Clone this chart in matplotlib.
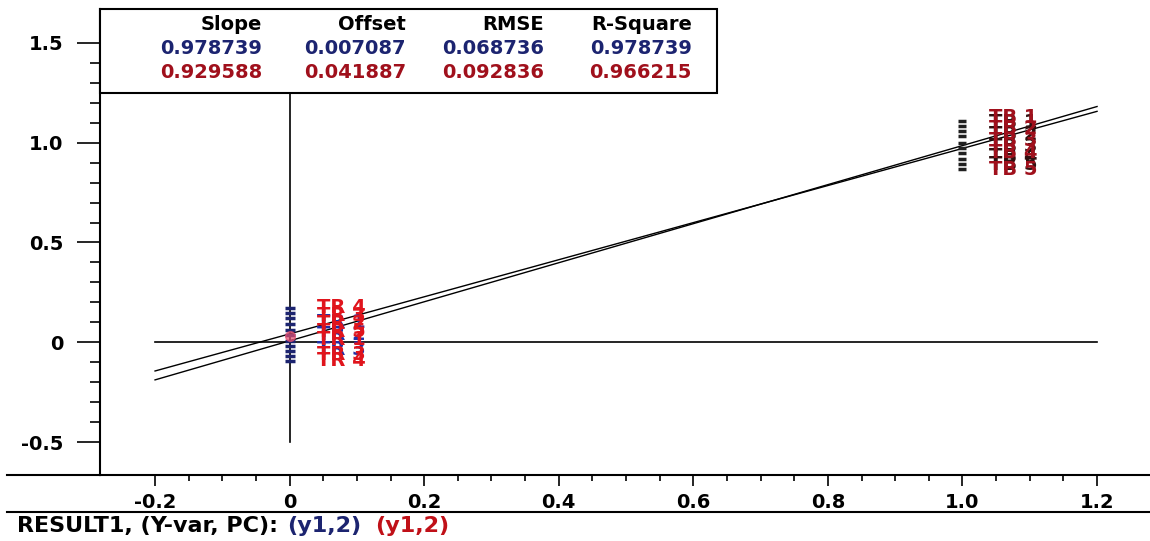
import numpy as np
import matplotlib
matplotlib.use("Agg")
import matplotlib.pyplot as plt
import matplotlib.ticker as tck
from matplotlib.lines import Line2D
from matplotlib.patches import Rectangle

# fit statistics shown in the box (blue row, red row)
stat_heads = ["Slope", "Offset", "RMSE", "R-Square"]
stats_blue = ["0.978739", "0.007087", "0.068736", "0.978739"]
stats_red = ["0.929588", "0.041887", "0.092836", "0.966215"]
slopes = [0.978739, 0.929588]
offsets = [0.007087, 0.041887]
fit_x = [-0.2, 1.2]

# samples at reference 0 and 1
pts0_y = [0.17, 0.145, 0.12, 0.09, 0.06, 0.035, 0.005, -0.02, -0.045, -0.07, -0.095]
pts1_y = [1.11, 1.085, 1.06, 1.035, 1.0, 0.975, 0.95, 0.92, 0.895, 0.87]
red0_y = [0.03]

# sample name labels
tr_blue_names = ["TR 1", "TR 2", "TR 3"]
tr_blue_y = [0.10, 0.04, -0.035]
tr_red_names = ["TR 4", "TR 3", "TR 2", "TR 5", "TR 1", "TR 3", "TR 4"]
tr_red_y = [0.175, 0.135, 0.095, 0.055, 0.015, -0.06, -0.09]
tb_dark_names = ["TB 1", "TB 2", "TB 3", "TB 4", "TB 5"]
tb_dark_y = [1.10, 1.04, 0.98, 0.93, 0.89]
tb_red_names = ["TB 1", "TB 2", "TB 3", "TB 4", "TB 5"]
tb_red_y = [1.125, 1.07, 1.01, 0.95, 0.865]

xticks = [-0.2, 0, 0.2, 0.4, 0.6, 0.8, 1.0, 1.2]
xticklabels = ["-0.2", "0", "0.2", "0.4", "0.6", "0.8", "1.0", "1.2"]
yticks = [-0.5, 0, 0.5, 1.0, 1.5]
yticklabels = ["-0.5", "0", "0.5", "1.0", "1.5"]

BLUE = "#1c2470"
RED = "#a0101c"
BRED = "#e0141c"
FS = 14

plt.rcParams['font.family'] = ['DejaVu Sans']
plt.rcParams['font.weight'] = 'bold'

W, H = 1150, 541
fig = plt.figure(figsize=(W / 100, H / 100), dpi=100)
ax = fig.add_axes([100 / W, (H - 475) / H, 1050 / W, 466 / H])
ax.set_xlim(-0.2818, 1.2787)
ax.set_ylim(-0.6654, 1.6704)

for s in ["top", "right"]:
    ax.spines[s].set_visible(False)
for s in ["left", "bottom"]:
    ax.spines[s].set_linewidth(1.5)

ax.set_xticks(xticks)
ax.set_xticklabels(xticklabels, fontsize=FS, fontweight='bold')
ax.set_yticks(yticks)
ax.set_yticklabels(yticklabels, fontsize=FS, fontweight='bold')
ax.xaxis.set_minor_locator(tck.FixedLocator(np.arange(-0.2, 1.21, 0.05)))
ax.yaxis.set_minor_locator(tck.FixedLocator(np.arange(-0.5, 1.51, 0.1)))
ax.tick_params(axis='x', which='major', direction='out', length=8, width=1.2, pad=5)
ax.tick_params(axis='x', which='minor', direction='out', length=4, width=1.2)
ax.tick_params(axis='y', which='major', direction='out', length=16.5, width=1.2, pad=10)
ax.tick_params(axis='y', which='minor', direction='out', length=7, width=1.2)

# reference lines
ax.plot([fit_x[0], fit_x[1]], [0, 0], color='black', lw=1.2, zorder=2)
ax.plot([0, 0], [-0.5, 1.6704], color='black', lw=1.2, zorder=2)

# regression lines
for sl, off in zip(slopes, offsets):
    ax.plot(fit_x, [sl * fit_x[0] + off, sl * fit_x[1] + off], color='black', lw=1.0, zorder=3)

# points
ax.plot([0] * len(pts0_y), pts0_y, ls='none', marker='_', ms=7, mew=2.5, color=BLUE, zorder=4)
ax.plot([0] * len(red0_y), red0_y, ls='none', marker='o', ms=7, color='#e85070', alpha=0.7, zorder=4)
ax.plot([1.0] * len(pts1_y), pts1_y, ls='none', marker='_', ms=6, mew=2.5, color='#202020', zorder=4)

# sample name labels
for name, yv in zip(tr_blue_names, tr_blue_y):
    ax.text(0.04, yv, name, color='#2030a8', fontsize=FS, fontweight='bold', va='center', ha='left', zorder=5)
for name, yv in zip(tr_red_names, tr_red_y):
    ax.text(0.04, yv, name, color=BRED, fontsize=FS, fontweight='bold', va='center', ha='left', zorder=6)
for name, yv in zip(tb_dark_names, tb_dark_y):
    ax.text(1.04, yv, name, color='#301010', fontsize=FS, fontweight='bold', va='center', ha='left', zorder=5)
for name, yv in zip(tb_red_names, tb_red_y):
    ax.text(1.04, yv, name, color=RED, fontsize=FS, fontweight='bold', va='center', ha='left', zorder=6)

# stats box
box_bottom = (475 - 93) / 466
ax.add_patch(Rectangle((0, box_bottom), (717 - 100) / 1050, 1 - box_bottom, transform=ax.transAxes,
                       facecolor='white', edgecolor='black', lw=1.5, zorder=10, clip_on=False))
col_right = [262, 406, 544, 692]
for i in range(4):
    x = col_right[i] / W
    fig.text(x, 1 - 24 / H, stat_heads[i], ha='right', va='center', fontsize=FS, fontweight='bold',
             color='black', zorder=11)
    fig.text(x, 1 - 49 / H, stats_blue[i], ha='right', va='center', fontsize=FS, fontweight='bold',
             color=BLUE, zorder=11)
    fig.text(x, 1 - 73 / H, stats_red[i], ha='right', va='center', fontsize=FS, fontweight='bold',
             color=RED, zorder=11)

# frame lines outside the axes
fig.add_artist(Line2D([7 / W, 100 / W], [(H - 475) / H] * 2, color='black', lw=1.5))
fig.add_artist(Line2D([7 / W, 1.0], [(H - 512) / H] * 2, color='black', lw=1.5))

# bottom caption
cap_y = 1 - 526 / H
fig.text(17 / W, cap_y, "RESULT1, (Y-var, PC):", ha='left', va='center',
         fontsize=16, fontweight='bold', color='black')
fig.text(287 / W, cap_y, "(y1,2)", ha='left', va='center',
         fontsize=16, fontweight='bold', color=BLUE)
fig.text(375 / W, cap_y, "(y1,2)", ha='left', va='center',
         fontsize=16, fontweight='bold', color='#c01018')

plt.savefig("out.png", dpi=100)
